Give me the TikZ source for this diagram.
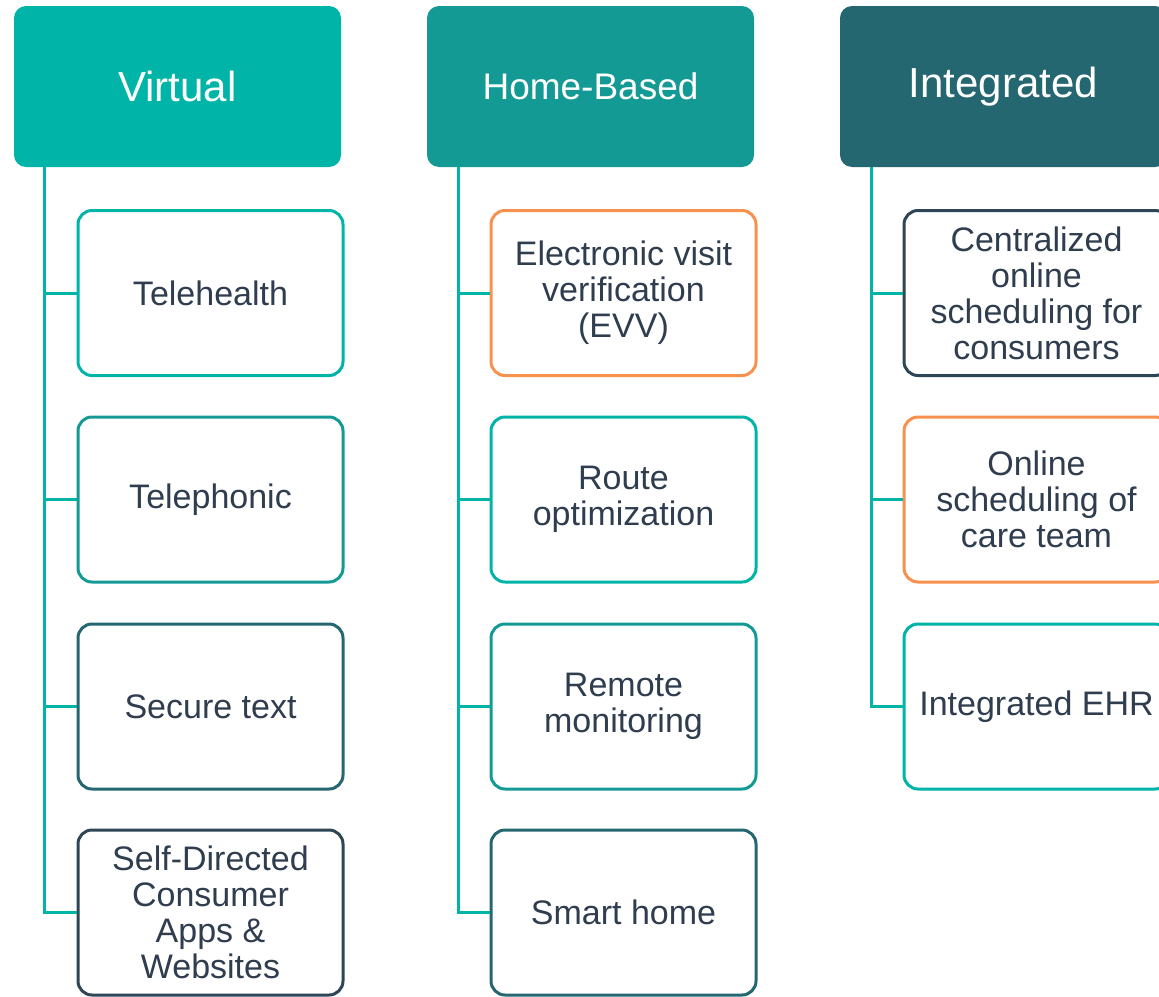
\documentclass[tikz,border=0pt]{standalone}
\usepackage{fontspec}
\setmainfont{Liberation Sans}
\definecolor{tealA}{HTML}{00B5A7}
\definecolor{tealB}{HTML}{149A94}
\definecolor{tealC}{HTML}{256770}
\definecolor{slate}{HTML}{2E4656}
\definecolor{orng}{HTML}{F7914D}
\definecolor{txt}{HTML}{2F3D4F}
\tikzset{
  hdr/.style={rectangle, rounded corners=12pt, minimum width=327pt, minimum height=161pt, inner sep=0pt, text=white, font=\fontsize{42pt}{46pt}\selectfont, align=center},
  item/.style={rectangle, rounded corners=14pt, line width=3pt, fill=white, minimum width=265pt, minimum height=165pt, inner sep=0pt, text=txt, font=\fontsize{34pt}{36pt}\selectfont, align=center},
  conn/.style={draw=tealA, line width=3pt}
}
\begin{document}
\begin{tikzpicture}[x=1pt,y=-1pt]
\clip (0,0) rectangle (1159,996);
\fill[white] (0,0) rectangle (1159,996);
% headers
\node[hdr, fill=tealA] (h1) at (177.5,86.5) {Virtual};
\node[hdr, fill=tealB, font=\fontsize{37pt}{40pt}\selectfont] (h2) at (590.5,86.5) {Home-Based};
\node[hdr, fill=tealC] (h3) at (1003.5,86.5) {Integrated};
% column 1
\node[item, draw=tealA] (c11) at (210.5,293) {Telehealth};
\node[item, draw=tealB] (c12) at (210.5,499.5) {Telephonic};
\node[item, draw=tealC] (c13) at (210.5,706.5) {Secure text};
\node[item, draw=slate] (c14) at (210.5,912.5) {Self-Directed\\Consumer\\Apps \&\\Websites};
% column 2
\node[item, draw=orng] (c21) at (623.5,293) {Electronic visit\\verification\\(EVV)};
\node[item, draw=tealA] (c22) at (623.5,499.5) {Route\\optimization};
\node[item, draw=tealB] (c23) at (623.5,706.5) {Remote\\monitoring};
\node[item, draw=tealC] (c24) at (623.5,912.5) {Smart home};
% column 3
\node[item, draw=slate] (c31) at (1036.5,293) {Centralized\\online\\scheduling for\\consumers};
\node[item, draw=orng] (c32) at (1036.5,499.5) {Online\\scheduling of\\care team};
\node[item, draw=tealA] (c33) at (1036.5,706.5) {Integrated EHR};
% connectors
\coordinate (t1) at ([xshift=31pt]h1.south west);
\coordinate (t2) at ([xshift=32pt]h2.south west);
\coordinate (t3) at ([xshift=32pt]h3.south west);
\draw[conn] (t1) |- (c14.west);
\draw[conn] (t1 |- c11.west) -- (c11.west);
\draw[conn] (t1 |- c12.west) -- (c12.west);
\draw[conn] (t1 |- c13.west) -- (c13.west);
\draw[conn] (t2) |- (c24.west);
\draw[conn] (t2 |- c21.west) -- (c21.west);
\draw[conn] (t2 |- c22.west) -- (c22.west);
\draw[conn] (t2 |- c23.west) -- (c23.west);
\draw[conn] (t3) |- (c33.west);
\draw[conn] (t3 |- c31.west) -- (c31.west);
\draw[conn] (t3 |- c32.west) -- (c32.west);
\end{tikzpicture}
\end{document}
